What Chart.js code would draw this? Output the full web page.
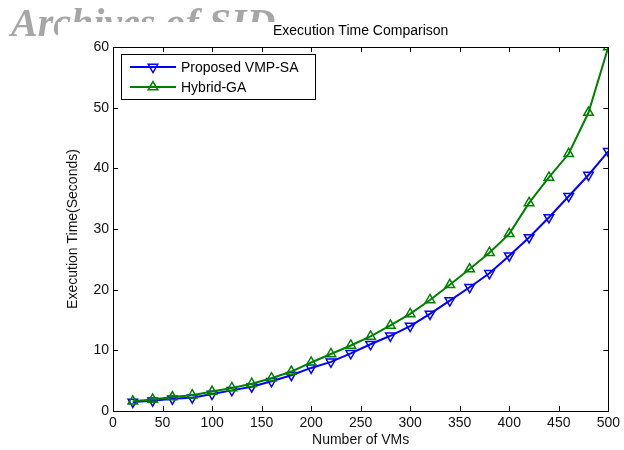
<!DOCTYPE html>
<html>
<head>
<meta charset="utf-8">
<script src="https://cdn.jsdelivr.net/npm/chart.js@4.4.0/dist/chart.umd.min.js"></script>
<style>
  body { margin: 0; background: #fff; }
  #wrap { width: 624px; height: 450px; }
</style>
</head>
<body>
<div id="wrap"><canvas id="execChart" width="624" height="450"></canvas></div>
<script>
const vmCounts = [20, 40, 60, 80, 100, 120, 140, 160, 180, 200, 220, 240, 260, 280, 300, 320, 340, 360, 380, 400, 420, 440, 460, 480, 500];
const vmpSaTimes = [1.5, 1.7, 2.0, 2.2, 2.8, 3.4, 4.0, 4.9, 5.9, 7.1, 8.1, 9.5, 11.0, 12.4, 14.0, 16.0, 18.2, 20.4, 22.7, 25.6, 28.6, 31.9, 35.4, 38.9, 42.8];
const hybridGaTimes = [1.6, 1.9, 2.3, 2.6, 3.2, 3.8, 4.5, 5.4, 6.5, 8.0, 9.4, 10.8, 12.3, 14.1, 16.0, 18.3, 20.8, 23.4, 26.1, 29.2, 34.3, 38.5, 42.4, 49.2, 60];
const xTicks = [0, 50, 100, 150, 200, 250, 300, 350, 400, 450, 500];
const yTicks = [0, 10, 20, 30, 40, 50, 60];
const seriesNames = ["Proposed VMP-SA", "Hybrid-GA"];

const fontFamily = "'Liberation Sans', Arial, sans-serif";

const toPoints = (vals) => vals.map((v, i) => ({ x: vmCounts[i], y: v }));

// watermark behind the figure, partly hidden by it
const backdrop = {
  id: "backdrop",
  beforeDraw: (chart) => {
    const c = chart.ctx;
    c.save();
    c.fillStyle = "#fff";
    c.fillRect(0, 0, chart.width, chart.height);
    c.fillStyle = "#a6a6a6";
    c.font = "italic bold 40px 'Liberation Serif', 'Times New Roman', serif";
    c.textBaseline = "alphabetic";
    c.fillText("Archives of SID", 11, 36);
    c.fillStyle = "#fff";
    c.fillRect(58, 22, chart.width - 58, chart.height - 22);
    c.restore();
  }
};

// box, inward ticks, title and legend in the matlab style
const matlabFrame = {
  id: "matlabFrame",
  afterDraw: (chart) => {
    const c = chart.ctx;
    const a = chart.chartArea;
    const xs = chart.scales.x;
    const ys = chart.scales.y;
    c.save();
    c.strokeStyle = "#000";
    c.lineWidth = 1;
    c.strokeRect(Math.round(a.left) + 0.5, Math.round(a.top) + 0.5, Math.round(a.right - a.left), Math.round(a.bottom - a.top));
    c.beginPath();
    xTicks.forEach((v) => {
      const px = Math.round(xs.getPixelForValue(v)) + 0.5;
      c.moveTo(px, a.bottom); c.lineTo(px, a.bottom - 5);
      c.moveTo(px, a.top); c.lineTo(px, a.top + 5);
    });
    yTicks.forEach((v) => {
      const py = Math.round(ys.getPixelForValue(v)) + 0.5;
      c.moveTo(a.left, py); c.lineTo(a.left + 5, py);
      c.moveTo(a.right, py); c.lineTo(a.right - 5, py);
    });
    c.stroke();

    c.fillStyle = "#000";
    c.font = "14px " + fontFamily;
    c.textAlign = "center";
    c.textBaseline = "middle";
    c.fillText("Execution Time Comparison", (a.left + a.right) / 2, 31);

    // legend
    const lx = 121, ly = 54, lw = 194, lh = 45;
    c.fillStyle = "#fff";
    c.fillRect(lx, ly, lw, lh);
    c.strokeRect(lx + 0.5, ly + 0.5, lw, lh);
    const rows = [67, 87];
    chart.data.datasets.forEach((ds, i) => {
      const y = rows[i];
      c.strokeStyle = ds.borderColor;
      c.lineWidth = 2;
      c.beginPath();
      c.moveTo(130, y); c.lineTo(176, y);
      c.stroke();
      c.fillStyle = "rgba(0,0,0,0)";
      c.lineWidth = 1.5;
      Chart.helpers.drawPoint(c, {
        pointStyle: "triangle",
        radius: 5.5,
        rotation: ds.pointRotation,
        borderWidth: 1.5
      }, 153, y);
      c.fillStyle = "#000";
      c.textAlign = "left";
      c.fillText(ds.label, 181, y + 1);
    });
    c.restore();
  }
};

const ctx = document.getElementById("execChart").getContext("2d");
const execChart = new Chart(ctx, {
  type: "line",
  data: {
    datasets: [
      {
        label: seriesNames[0],
        data: toPoints(vmpSaTimes),
        borderColor: "#0000ff",
        pointBorderColor: "#0000ff",
        pointBackgroundColor: "rgba(0,0,0,0)",
        pointStyle: "triangle",
        pointRotation: 180,
        pointRadius: 5.5,
        pointBorderWidth: 1.5,
        borderWidth: 2,
        tension: 0,
        order: 1
      },
      {
        label: seriesNames[1],
        data: toPoints(hybridGaTimes),
        borderColor: "#008000",
        pointBorderColor: "#008000",
        pointBackgroundColor: "rgba(0,0,0,0)",
        pointStyle: "triangle",
        pointRotation: 0,
        pointRadius: 5.5,
        pointBorderWidth: 1.5,
        borderWidth: 2,
        tension: 0,
        order: 0
      }
    ]
  },
  options: {
    responsive: false,
    animation: false,
    layout: { padding: { top: 47, right: 12, left: 0, bottom: 0 } },
    plugins: {
      legend: { display: false },
      tooltip: { enabled: false },
      title: { display: false }
    },
    scales: {
      x: {
        type: "linear",
        min: 0,
        max: 500,
        afterBuildTicks: (scale) => { scale.ticks = xTicks.map((v) => ({ value: v })); },
        afterFit: (scale) => { scale.height = 39; },
        grid: { display: false, drawTicks: false },
        border: { display: true, color: "#000" },
        ticks: { color: "#111", padding: 4, font: { family: fontFamily, size: 14 }, maxRotation: 0 },
        title: { display: true, text: "Number of VMs", color: "#111", font: { family: fontFamily, size: 14 }, padding: { top: 0, bottom: 1 } }
      },
      y: {
        type: "linear",
        min: 0,
        max: 60,
        afterBuildTicks: (scale) => { scale.ticks = yTicks.map((v) => ({ value: v })); },
        afterFit: (scale) => { scale.width = 113; },
        grid: { display: false, drawTicks: false },
        border: { display: true, color: "#000" },
        ticks: { color: "#111", padding: 4, font: { family: fontFamily, size: 14 } },
        title: { display: true, text: "Execution Time(Seconds)", color: "#111", font: { family: fontFamily, size: 14 }, padding: { top: 65, bottom: 0 } }
      }
    }
  },
  plugins: [backdrop, matlabFrame]
});
</script>
</body>
</html>
